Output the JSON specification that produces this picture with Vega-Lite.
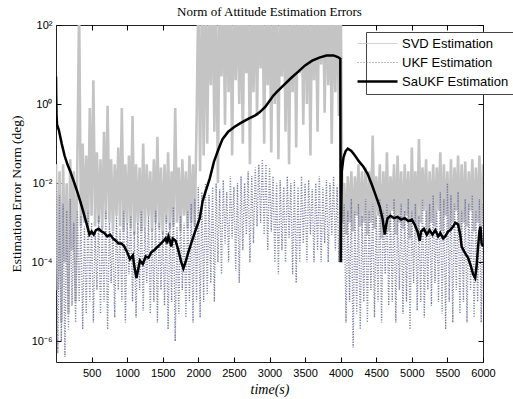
{
"$schema":"https://vega.github.io/schema/vega-lite/v6.json",
"width":427,"height":337,
"autosize":{"type":"none"},
"padding":{"left":56,"top":25,"right":30,"bottom":37},
"background":"white",
"title":{"text":"Norm of Attitude Estimation Errors","font":"Liberation Serif","fontSize":13,"fontWeight":"normal","color":"#000","offset":8,"frame":"group","dy":8},
"datasets":{
"m":[
{"t":0,"s":3e-2,"u":1e-2},{"t":25,"s":2e-5,"u":5e-7},{"t":50,"s":2e-2,"u":5e-3},{"t":75,"s":3e-6,"u":1e-6},{"t":100,"s":3e-2,"u":3e-3},{"t":125,"s":1e-4,"u":4e-7},{"t":150,"s":1e-2,"u":2e-3},{"t":175,"s":5e-6,"u":2e-6},{"t":200,"s":4e-2,"u":4e-3},{"t":225,"s":2e-4,"u":8e-6},{"t":250,"s":2e-2,"u":1e-3},{"t":275,"s":1e-5,"u":3e-6},{"t":300,"s":3e-2,"u":2e-3},
{"t":325,"s":3e2,"u":1e-5},{"t":350,"s":8e-4,"u":1.5e-3},{"t":375,"s":1e-1,"u":2e-6},{"t":400,"s":1e-3,"u":8e-4},{"t":425,"s":5e-2,"u":5e-6},{"t":450,"s":6e-4,"u":2e-3},{"t":475,"s":8e-1,"u":1e-5},{"t":500,"s":1.5e-3,"u":1e-3},{"t":525,"s":4,"u":3e-6},{"t":550,"s":8e-4,"u":6e-4},{"t":575,"s":6e-2,"u":2e-5},{"t":600,"s":1e-3,"u":1.5e-3},{"t":625,"s":4e-2,"u":5e-6},{"t":650,"s":7e-4,"u":8e-4},{"t":675,"s":2e-1,"u":1e-5},{"t":700,"s":1.2e-3,"u":2e-3},
{"t":725,"s":9e-1,"u":2e-6},{"t":750,"s":1e-3,"u":1e-3},{"t":775,"s":4e-2,"u":3e-5},{"t":800,"s":6e-4,"u":6e-4},{"t":825,"s":3e-2,"u":4e-6},{"t":850,"s":1.5e-3,"u":1.5e-3},{"t":875,"s":8e-2,"u":2e-5},{"t":900,"s":8e-4,"u":7e-4},{"t":925,"s":8e-1,"u":1e-5},{"t":950,"s":6e-4,"u":2e-3},{"t":975,"s":3e-2,"u":3e-6},{"t":1000,"s":1e-3,"u":1e-3},
{"t":1025,"s":5e-2,"u":5e-5},{"t":1050,"s":7e-4,"u":1.5e-3},{"t":1075,"s":5e-1,"u":1e-5},{"t":1100,"s":5e-4,"u":6e-4},{"t":1125,"s":3e-2,"u":4e-6},{"t":1150,"s":1e-3,"u":1e-3},{"t":1175,"s":2.5e-2,"u":2e-5},{"t":1200,"s":6e-4,"u":2e-3},{"t":1225,"s":1e-1,"u":6e-6},{"t":1250,"s":8e-4,"u":8e-4},{"t":1275,"s":3e-2,"u":3e-5},{"t":1300,"s":1.5e-3,"u":1.5e-3},
{"t":1325,"s":2e-2,"u":5e-6},{"t":1350,"s":6e-4,"u":7e-4},{"t":1375,"s":4e-2,"u":1e-5},{"t":1400,"s":1e-3,"u":2e-3},{"t":1425,"s":1.5e-1,"u":3e-6},{"t":1450,"s":7e-4,"u":1e-3},{"t":1475,"s":2.5e-2,"u":2e-5},{"t":1500,"s":5e-4,"u":6e-4},{"t":1525,"s":3e-2,"u":8e-6},{"t":1550,"s":1e-3,"u":1.5e-3},{"t":1575,"s":6e-2,"u":2e-6},{"t":1600,"s":7e-4,"u":1e-3},
{"t":1625,"s":2e-2,"u":1e-5},{"t":1650,"s":8e-4,"u":2.5e-3},{"t":1675,"s":8e-1,"u":1e-6},{"t":1700,"s":1e-3,"u":8e-4},{"t":1725,"s":2.5e-2,"u":5e-6},{"t":1750,"s":6e-4,"u":1.5e-3},{"t":1775,"s":4e-2,"u":2e-5},{"t":1800,"s":1.5e-3,"u":1e-3},{"t":1825,"s":2e-2,"u":4e-6},{"t":1850,"s":7e-4,"u":2e-3},{"t":1875,"s":5e-2,"u":1e-5},{"t":1900,"s":1e-3,"u":3e-3},{"t":1925,"s":3e-2,"u":3e-6},{"t":1950,"s":8e-4,"u":4e-3},{"t":1975,"s":3.5e-1,"u":1e-5},
{"t":2000,"s":5e2,"u":8e-3},{"t":2025,"s":2e-2,"u":4e-6},{"t":2050,"s":8e2,"u":6e-3},{"t":2075,"s":5e-2,"u":1e-5},{"t":2100,"s":1e3,"u":1e-2},{"t":2125,"s":1e-1,"u":1.5e-5},{"t":2150,"s":5e2,"u":5e-3},{"t":2175,"s":3,"u":3e-5},{"t":2200,"s":1e3,"u":8e-3},{"t":2225,"s":2e-1,"u":1e-5},{"t":2250,"s":6e2,"u":1e-2},{"t":2275,"s":1e-2,"u":1e-4},
{"t":2300,"s":1e3,"u":7e-3},{"t":2325,"s":5,"u":5e-5},{"t":2350,"s":8e2,"u":1.2e-2},{"t":2375,"s":3e-1,"u":3e-4},{"t":2400,"s":1e3,"u":6e-3},{"t":2425,"s":2,"u":1e-4},{"t":2450,"s":7e2,"u":1.5e-2},{"t":2475,"s":5e-2,"u":4e-4},{"t":2500,"s":1e3,"u":8e-3},{"t":2525,"s":4,"u":6e-5},{"t":2550,"s":6e2,"u":1e-2},{"t":2575,"s":1,"u":3e-5},
{"t":2600,"s":1e3,"u":1.5e-2},{"t":2625,"s":1e-1,"u":2e-4},{"t":2650,"s":9e2,"u":1e-2},{"t":2675,"s":6,"u":5e-4},{"t":2700,"s":1e3,"u":2e-2},{"t":2725,"s":3e-2,"u":1e-4},{"t":2750,"s":8e2,"u":1.5e-2},{"t":2775,"s":2,"u":3e-4},{"t":2800,"s":1e3,"u":2.5e-2},{"t":2825,"s":5e-1,"u":8e-4},{"t":2850,"s":7e2,"u":3e-2},{"t":2875,"s":8,"u":1e-3},
{"t":2900,"s":1e3,"u":4e-2},{"t":2925,"s":1e-1,"u":5e-4},{"t":2950,"s":6e2,"u":3e-2},{"t":2975,"s":3,"u":2e-4},{"t":3000,"s":1e3,"u":2.5e-2},{"t":3025,"s":6e-2,"u":6e-4},{"t":3050,"s":8e2,"u":1.5e-2},{"t":3075,"s":1,"u":1e-4},{"t":3100,"s":1e3,"u":1e-2},{"t":3125,"s":4e-2,"u":5e-5},{"t":3150,"s":5e2,"u":1.2e-2},{"t":3175,"s":5,"u":2e-4},
{"t":3200,"s":1e3,"u":8e-3},{"t":3225,"s":2e-1,"u":1e-4},{"t":3250,"s":9e2,"u":1.5e-2},{"t":3275,"s":3e-2,"u":4e-4},{"t":3300,"s":1e3,"u":1e-2},{"t":3325,"s":2,"u":5e-5},{"t":3350,"s":7e2,"u":1.2e-2},{"t":3375,"s":8e-2,"u":3e-5},{"t":3400,"s":1e3,"u":8e-3},{"t":3425,"s":6,"u":1e-4},{"t":3450,"s":6e2,"u":1.5e-2},{"t":3475,"s":3e-1,"u":3e-4},
{"t":3500,"s":1e3,"u":1e-2},{"t":3525,"s":1,"u":1e-4},{"t":3550,"s":8e2,"u":1.2e-2},{"t":3575,"s":5e-2,"u":5e-4},{"t":3600,"s":1e3,"u":7e-3},{"t":3625,"s":4,"u":1e-4},{"t":3650,"s":5e2,"u":1e-2},{"t":3675,"s":2e-1,"u":2e-4},{"t":3700,"s":1e3,"u":1.5e-2},{"t":3725,"s":1e1,"u":1e-4},{"t":3750,"s":8e2,"u":8e-3},{"t":3775,"s":6e-1,"u":3e-4},
{"t":3800,"s":1e3,"u":1.2e-2},{"t":3825,"s":3,"u":1e-4},{"t":3850,"s":7e2,"u":1e-2},{"t":3875,"s":1e-1,"u":5e-4},{"t":3900,"s":1e3,"u":1.5e-2},{"t":3925,"s":2,"u":2e-4},{"t":3950,"s":9e2,"u":8e-3},{"t":3975,"s":5e-1,"u":1e-4},{"t":4000,"s":8e2,"u":1e-2},
{"t":4025,"s":1e-3,"u":1e-4},{"t":4050,"s":1e-2,"u":3e-3},{"t":4075,"s":5e-4,"u":3e-6},{"t":4100,"s":1.5e-2,"u":2e-3},{"t":4125,"s":1e-3,"u":1e-5},{"t":4150,"s":2e-2,"u":4e-3},{"t":4175,"s":6e-4,"u":7e-7},{"t":4200,"s":1.5e-2,"u":2e-3},{"t":4225,"s":1.5e-3,"u":5e-6},{"t":4250,"s":3e-2,"u":3e-3},{"t":4275,"s":8e-4,"u":2e-6},{"t":4300,"s":2e-2,"u":1.5e-3},
{"t":4325,"s":1e-3,"u":1e-5},{"t":4350,"s":2.5e-2,"u":4e-3},{"t":4375,"s":5e-4,"u":3e-6},{"t":4400,"s":2e-2,"u":2e-3},{"t":4425,"s":1e-3,"u":2e-5},{"t":4450,"s":1.6e-1,"u":3e-3},{"t":4475,"s":7e-4,"u":4e-6},{"t":4500,"s":1.5e-2,"u":1.5e-3},{"t":4525,"s":1.5e-3,"u":1e-5},{"t":4550,"s":3e-2,"u":4e-3},{"t":4575,"s":4e-4,"u":3e-6},{"t":4600,"s":2e-2,"u":2e-3},
{"t":4625,"s":1e-3,"u":5e-5},{"t":4650,"s":6e-2,"u":3e-3},{"t":4675,"s":6e-4,"u":8e-6},{"t":4700,"s":1.5e-2,"u":2e-3},{"t":4725,"s":2e-3,"u":1e-5},{"t":4750,"s":3e-2,"u":4e-3},{"t":4775,"s":5e-4,"u":3e-6},{"t":4800,"s":5e-2,"u":1.5e-3},{"t":4825,"s":1e-3,"u":2e-5},{"t":4850,"s":2e-2,"u":3e-3},{"t":4875,"s":7e-4,"u":5e-6},{"t":4900,"s":3e-2,"u":2e-3},
{"t":4925,"s":1.5e-3,"u":1e-5},{"t":4950,"s":2e-2,"u":4e-3},{"t":4975,"s":4e-4,"u":2e-6},{"t":5000,"s":8e-2,"u":2e-3},{"t":5025,"s":1e-3,"u":3e-5},{"t":5050,"s":2e-2,"u":3e-3},{"t":5075,"s":6e-4,"u":6e-6},{"t":5100,"s":1.3e-1,"u":1.5e-3},{"t":5125,"s":1e-3,"u":1e-5},{"t":5150,"s":2.5e-2,"u":4e-3},{"t":5175,"s":2e-3,"u":4e-6},{"t":5200,"s":4e-2,"u":2e-3},
{"t":5225,"s":5e-4,"u":2e-5},{"t":5250,"s":2e-2,"u":3e-3},{"t":5275,"s":1e-3,"u":8e-6},{"t":5300,"s":3e-2,"u":5e-3},{"t":5325,"s":8e-4,"u":3e-5},{"t":5350,"s":2.5e-2,"u":2e-3},{"t":5375,"s":2e-3,"u":1e-5},{"t":5400,"s":6e-2,"u":6e-3},{"t":5425,"s":6e-4,"u":5e-6},{"t":5450,"s":3e-2,"u":4e-3},{"t":5475,"s":1.5e-3,"u":2e-6},{"t":5500,"s":2e-2,"u":1e-2},
{"t":5525,"s":7e-4,"u":1e-5},{"t":5550,"s":4e-2,"u":5e-3},{"t":5575,"s":1e-3,"u":3e-6},{"t":5600,"s":2.5e-2,"u":3e-3},{"t":5625,"s":2e-3,"u":2e-5},{"t":5650,"s":5e-2,"u":6e-3},{"t":5675,"s":5e-4,"u":5e-6},{"t":5700,"s":3e-2,"u":2e-3},{"t":5725,"s":1e-3,"u":1e-5},{"t":5750,"s":3.5e-2,"u":4e-3},{"t":5775,"s":8e-4,"u":3e-6},{"t":5800,"s":2e-2,"u":3e-3},
{"t":5825,"s":2e-3,"u":2e-5},{"t":5850,"s":4e-2,"u":5e-3},{"t":5875,"s":6e-4,"u":4e-6},{"t":5900,"s":2.5e-2,"u":2e-3},{"t":5925,"s":1e-3,"u":1e-5},{"t":5950,"s":5e-2,"u":4e-3},{"t":5975,"s":8e-4,"u":3e-6},{"t":6000,"s":3e-2,"u":3e-3}
],
"k":[
{"t":0,"k":5},{"t":3,"k":1.5},{"t":8,"k":0.5},{"t":15,"k":0.3},{"t":40,"k":0.22},{"t":80,"k":0.1},{"t":120,"k":5e-2},{"t":160,"k":3e-2},{"t":200,"k":2e-2},{"t":250,"k":1.1e-2},{"t":300,"k":6e-3},{"t":340,"k":3.5e-3},{"t":380,"k":2e-3},{"t":420,"k":1.1e-3},{"t":450,"k":7e-4},{"t":470,"k":5e-4},
{"t":500,"k":6e-4},{"t":530,"k":5e-4},{"t":560,"k":6.5e-4},{"t":600,"k":7e-4},{"t":640,"k":6e-4},{"t":680,"k":5.5e-4},{"t":720,"k":4.5e-4},{"t":760,"k":5e-4},{"t":800,"k":4e-4},{"t":840,"k":3.5e-4},{"t":880,"k":3e-4},{"t":920,"k":3e-4},{"t":960,"k":2.5e-4},{"t":1000,"k":1.8e-4},{"t":1040,"k":1.2e-4},{"t":1080,"k":1.5e-4},
{"t":1100,"k":8e-5},{"t":1130,"k":4e-5},{"t":1150,"k":6e-5},{"t":1180,"k":1.1e-4},{"t":1220,"k":9e-5},{"t":1260,"k":1.4e-4},{"t":1300,"k":1.3e-4},{"t":1340,"k":1.8e-4},{"t":1380,"k":2e-4},{"t":1420,"k":2.4e-4},{"t":1460,"k":2.8e-4},{"t":1500,"k":3.3e-4},{"t":1540,"k":4e-4},{"t":1560,"k":3e-4},{"t":1580,"k":4.5e-4},{"t":1600,"k":3.5e-4},
{"t":1620,"k":2.5e-4},{"t":1640,"k":4e-4},{"t":1680,"k":3.5e-4},{"t":1720,"k":2e-4},{"t":1760,"k":1e-4},{"t":1790,"k":7e-5},{"t":1820,"k":1e-4},{"t":1860,"k":1.8e-4},{"t":1900,"k":3e-4},{"t":1940,"k":5e-4},{"t":1980,"k":8e-4},{"t":2020,"k":1.3e-3},{"t":2060,"k":3.5e-3},{"t":2100,"k":6e-3},{"t":2160,"k":1.3e-2},
{"t":2220,"k":3.5e-2},{"t":2280,"k":7e-2},{"t":2340,"k":1.3e-1},{"t":2420,"k":2e-1},{"t":2500,"k":2.6e-1},{"t":2580,"k":3.2e-1},{"t":2700,"k":4.2e-1},{"t":2800,"k":5.2e-1},{"t":2860,"k":6.2e-1},{"t":2940,"k":8.5e-1},{"t":3000,"k":1.2},{"t":3050,"k":1.6},{"t":3100,"k":2},{"t":3200,"k":3},{"t":3300,"k":4.5},
{"t":3400,"k":6.5},{"t":3500,"k":9.5},{"t":3600,"k":12.5},{"t":3700,"k":15},{"t":3800,"k":17},{"t":3900,"k":17},{"t":3960,"k":15.5},{"t":3995,"k":14},{"t":4000,"k":1e-4},{"t":4015,"k":2e-2},{"t":4040,"k":4.5e-2},{"t":4070,"k":6.5e-2},{"t":4100,"k":7.5e-2},{"t":4150,"k":6.5e-2},{"t":4200,"k":5e-2},
{"t":4260,"k":3.5e-2},{"t":4320,"k":2.6e-2},{"t":4380,"k":1.7e-2},{"t":4440,"k":9e-3},{"t":4500,"k":4.5e-3},{"t":4550,"k":2.5e-3},{"t":4590,"k":1.2e-3},{"t":4620,"k":5e-4},{"t":4640,"k":9e-4},{"t":4660,"k":1.3e-3},{"t":4700,"k":1.5e-3},{"t":4750,"k":1.3e-3},{"t":4800,"k":1.4e-3},{"t":4850,"k":1.2e-3},
{"t":4900,"k":1.3e-3},{"t":4950,"k":1.1e-3},{"t":5000,"k":1.2e-3},{"t":5040,"k":9e-4},{"t":5080,"k":6e-4},{"t":5110,"k":3.5e-4},{"t":5130,"k":6e-4},{"t":5170,"k":7e-4},{"t":5210,"k":5e-4},{"t":5250,"k":6.5e-4},{"t":5290,"k":5e-4},{"t":5330,"k":6.5e-4},{"t":5370,"k":4.5e-4},{"t":5400,"k":5.5e-4},
{"t":5440,"k":4e-4},{"t":5470,"k":4.5e-4},{"t":5510,"k":6e-4},{"t":5540,"k":6.5e-4},{"t":5580,"k":8e-4},{"t":5610,"k":1e-3},{"t":5650,"k":9e-4},{"t":5680,"k":5e-4},{"t":5700,"k":2.5e-4},{"t":5740,"k":1.8e-4},{"t":5790,"k":1.3e-4},{"t":5830,"k":8e-5},{"t":5860,"k":5e-5},{"t":5890,"k":4e-5},
{"t":5910,"k":8e-5},{"t":5930,"k":2.4e-4},{"t":5950,"k":6e-4},{"t":5965,"k":8e-4},{"t":5980,"k":3e-4},{"t":6000,"k":2.5e-4}
]
},
"config":{
"view":{"stroke":"#222","strokeWidth":1},
"axis":{"labelFont":"Liberation Sans","labelFontSize":11,"labelColor":"#000","tickColor":"#000","domain":false,"grid":false,"offset":-5,"tickSize":5,"tickWidth":1,"labelOverlap":false,"labelFlush":false,"titleFont":"Liberation Serif","titleFontWeight":"normal","titleColor":"#000"},
"legend":{"orient":"none","legendX":310,"legendY":7,"fillColor":"#fff","strokeColor":"#444","padding":5,"symbolType":"stroke","symbolSize":1600,"labelFont":"Liberation Sans","labelFontSize":13,"labelColor":"#000","rowPadding":5,"labelOffset":18,"cornerRadius":0,"labelLimit":300}
},
"layer":[
{"data":{"name":"m"},"mark":{"type":"line","clip":true,"strokeWidth":2.6},
"encoding":{
"x":{"field":"t","type":"quantitative","scale":{"domain":[0,6000],"nice":false,"zero":false},"axis":{"orient":"bottom","values":[500,1000,1500,2000,2500,3000,3500,4000,4500,5000,5500,6000],"format":"d","title":"time(s)","titleFontStyle":"italic","titleFontSize":14,"labelPadding":5}},
"y":{"field":"s","type":"quantitative","scale":{"type":"log","domain":[3e-7,100],"nice":false},"axis":{"orient":"left","values":[1e-6,1e-4,1e-2,1,100],"labelExpr":"datum.value >= 10 ? '10²' : datum.value >= 0.5 ? '10⁰' : datum.value >= 0.005 ? '10⁻²' : datum.value >= 0.00005 ? '10⁻⁴' : '10⁻⁶'","title":"Estimation Error Norm (deg)","titleFontSize":13.5,"labelPadding":4,"titlePadding":8}},
"color":{"datum":"SVD Estimation","type":"nominal","scale":{"domain":["SVD Estimation","UKF Estimation","SaUKF Estimation"],"range":["#c4c4c4","#7a7aa4","#000000"]},
"legend":{"title":null,"encode":{"symbols":{"update":{"strokeDash":{"signal":"datum.value === 'UKF Estimation' ? [1,2] : [1,0]"},"strokeWidth":{"signal":"datum.value === 'SaUKF Estimation' ? 2.5 : 1"}}}}}}
}},
{"data":{"name":"m"},"mark":{"type":"line","clip":true,"strokeWidth":1.4,"strokeDash":[1,1.6]},
"encoding":{
"x":{"field":"t","type":"quantitative","axis":{"orient":"top","values":[500,1000,1500,2000,2500,3000,3500,4000,4500,5000,5500,6000],"labels":false,"title":null}},
"y":{"field":"u","type":"quantitative","axis":{"orient":"right","values":[1e-6,1e-4,1e-2,1,100],"labels":false,"title":null}},
"color":{"datum":"UKF Estimation","type":"nominal"}
}},
{"data":{"name":"k"},"mark":{"type":"line","clip":true,"strokeWidth":2.5},
"encoding":{
"x":{"field":"t","type":"quantitative","axis":null},
"y":{"field":"k","type":"quantitative","axis":null},
"color":{"datum":"SaUKF Estimation","type":"nominal"}
}}
]
}
